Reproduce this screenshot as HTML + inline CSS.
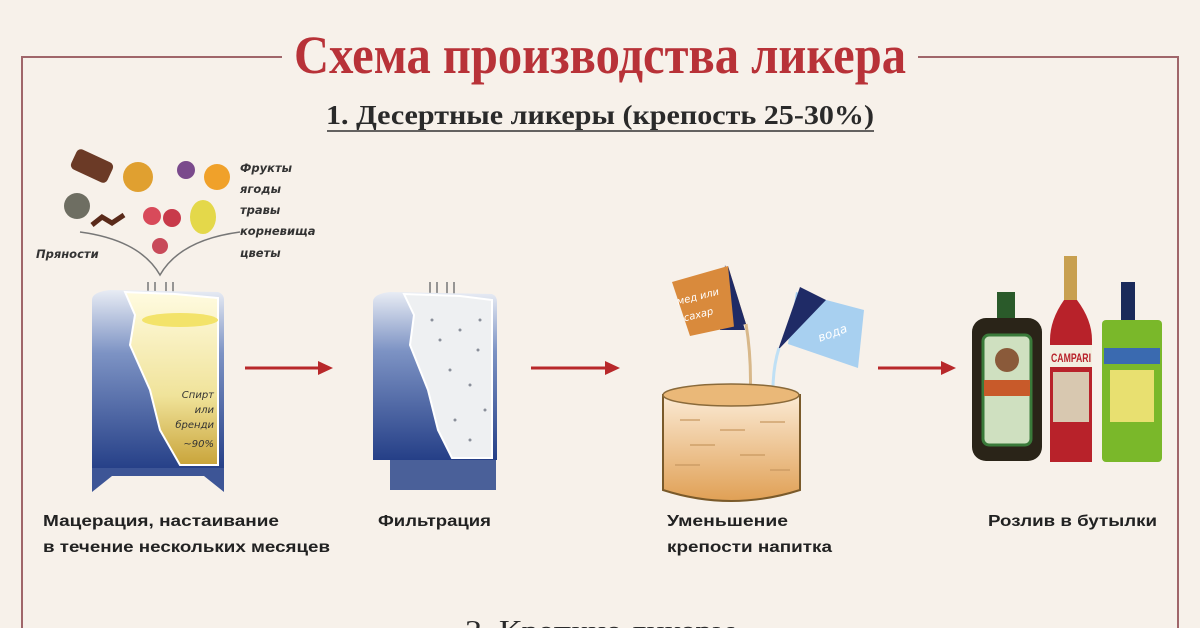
<!DOCTYPE html>
<html><head><meta charset="utf-8"><style>
html,body{margin:0;padding:0;background:#f7f1ea;}
svg{display:block}
</style></head><body>
<svg width="1200" height="628" viewBox="0 0 1200 628" xmlns="http://www.w3.org/2000/svg">
<defs>
<linearGradient id="blue" x1="0" y1="0" x2="0" y2="1"><stop offset="0" stop-color="#e8ecf4"/><stop offset="0.35" stop-color="#7d93c4"/><stop offset="1" stop-color="#253f87"/></linearGradient>
<linearGradient id="liq" x1="0" y1="0" x2="0" y2="1"><stop offset="0" stop-color="#fffbe0"/><stop offset="0.6" stop-color="#f0e39a"/><stop offset="1" stop-color="#c9a43a"/></linearGradient>
<linearGradient id="vat" x1="0" y1="0" x2="0" y2="1"><stop offset="0" stop-color="#fbead4"/><stop offset="1" stop-color="#e0a055"/></linearGradient>
</defs>
<rect width="1200" height="628" fill="#f7f1ea"/>
<g stroke="#a0666a" stroke-width="2" fill="none">
<path d="M22 628 V57 H282"/><path d="M918 57 H1178 V628"/>
</g>
<text x="600" y="73" text-anchor="middle" font-family="Liberation Serif,serif" font-weight="bold" font-size="54" fill="#b83238" textLength="612" lengthAdjust="spacingAndGlyphs">Схема производства ликера</text>
<text x="600" y="124" text-anchor="middle" font-family="Liberation Serif,serif" font-weight="bold" font-size="27" fill="#2a2a2a" textLength="548" lengthAdjust="spacingAndGlyphs">1. Десертные ликеры (крепость 25-30%)</text>
<line x1="327" y1="131" x2="874" y2="131" stroke="#333" stroke-width="1.5"/>
<g>
<rect x="72" y="155" width="40" height="22" rx="5" fill="#6b3a26" transform="rotate(25 92 166)"/>
<circle cx="138" cy="177" r="15" fill="#e0a030"/>
<circle cx="186" cy="170" r="9" fill="#7a4a8c"/>
<circle cx="217" cy="177" r="13" fill="#f0a12a"/>
<circle cx="77" cy="206" r="13" fill="#6e6e62"/>
<path d="M92 225 l10 -8 l10 6 l12 -8" stroke="#5a2a1a" stroke-width="5" fill="none"/>
<circle cx="152" cy="216" r="9" fill="#d84a5a"/><circle cx="172" cy="218" r="9" fill="#c83a4a"/>
<ellipse cx="203" cy="217" rx="13" ry="17" fill="#e4d84a"/>
<circle cx="160" cy="246" r="8" fill="#c84a5a"/>
<path d="M80 232 Q140 240 160 275 Q180 240 240 232" stroke="#777" stroke-width="1.5" fill="none"/>
</g>
<g font-family="DejaVu Sans,sans-serif" font-style="italic" font-weight="bold" font-size="11.5" fill="#333">
<text x="240" y="172">Фрукты</text><text x="240" y="193">ягоды</text><text x="240" y="214">травы</text><text x="240" y="235">корневища</text><text x="240" y="257">цветы</text>
<text x="36" y="258">Пряности</text>
</g>
<path d="M148 282 v12 M155 282 v12 M166 282 v12 M173 282 v12" stroke="#777" stroke-width="1.5"/>
<path d="M92 470 V300 Q92 292 110 290 L218 292 Q224 294 224 300 V470 Z" fill="url(#blue)"/>
<path d="M125 292 L135 315 L130 345 L150 390 L160 430 L180 465 L218 465 V298 L175 294 Z" fill="url(#liq)" stroke="#fff" stroke-width="2"/>
<ellipse cx="180" cy="320" rx="38" ry="7" fill="#f3e36a"/>
<rect x="92" y="468" width="132" height="8" fill="#3d5596"/>
<path d="M92 476 L92 492 L112 476 Z M224 476 L224 492 L204 476 Z" fill="#3d5596"/>
<g font-family="DejaVu Sans,sans-serif" font-style="italic" font-size="10" fill="#333" text-anchor="end">
<text x="214" y="398">Спирт</text><text x="214" y="413">или</text><text x="214" y="428">бренди</text><text x="214" y="447">~90%</text></g>
<g stroke="#b8282a" stroke-width="3" fill="#b8282a">
<line x1="245" y1="368" x2="320" y2="368"/><path d="M333 368 L318 361 L318 375 Z" stroke="none"/>
<line x1="531" y1="368" x2="607" y2="368"/><path d="M620 368 L605 361 L605 375 Z" stroke="none"/>
<line x1="878" y1="368" x2="943" y2="368"/><path d="M956 368 L941 361 L941 375 Z" stroke="none"/>
</g>
<path d="M430 282 v12 M437 282 v12 M447 282 v12 M454 282 v12" stroke="#777" stroke-width="1.5"/>
<path d="M373 460 V302 Q373 294 390 292 L492 294 Q497 296 497 302 V460 Z" fill="url(#blue)"/>
<path d="M404 294 L414 315 L410 345 L428 390 L438 430 L452 458 L492 458 V300 L460 296 Z" fill="#eef0f2" stroke="#fff" stroke-width="2"/>
<g fill="#8a8f9a"><circle cx="440" cy="340" r="1.5"/><circle cx="460" cy="330" r="1.5"/><circle cx="478" cy="350" r="1.5"/><circle cx="450" cy="370" r="1.5"/><circle cx="470" cy="385" r="1.5"/><circle cx="485" cy="410" r="1.5"/><circle cx="455" cy="420" r="1.5"/><circle cx="470" cy="440" r="1.5"/><circle cx="432" cy="320" r="1.5"/><circle cx="480" cy="320" r="1.5"/></g>
<rect x="390" y="460" width="106" height="30" fill="#4a6099"/>
<path d="M725 265 L745 330 L720 330 Z" fill="#1f2b66"/>
<path d="M672 282 L728 266 L746 324 L690 336 Z" fill="#d98a3c"/>
<path d="M728 266 L746 324 L734 327 Z" fill="#1f2b66"/>
<text x="678" y="302" font-family="DejaVu Sans,sans-serif" font-style="italic" font-size="10" fill="#fff" transform="rotate(-14 690 305)">мед или</text>
<text x="684" y="320" font-family="DejaVu Sans,sans-serif" font-style="italic" font-size="10" fill="#fff" transform="rotate(-14 690 318)">сахар</text>
<path d="M746 324 Q752 360 750 400" stroke="#d8b88a" stroke-width="3" fill="none"/>
<path d="M796 292 L864 310 L858 368 L788 344 Z" fill="#a8d0f0"/>
<path d="M800 287 L826 300 L778 350 Z" fill="#1f2b66"/>
<text x="818" y="338" font-family="DejaVu Sans,sans-serif" font-style="italic" font-size="12" fill="#fff" transform="rotate(-20 830 335)">вода</text>
<path d="M779 348 Q772 370 773 400" stroke="#bfe0f5" stroke-width="3" fill="none"/>
<path d="M663 395 V490 Q731 512 800 490 V395 Z" fill="url(#vat)" stroke="#7a5a2a" stroke-width="2"/>
<ellipse cx="731" cy="395" rx="68" ry="11" fill="#eab878" stroke="#8a6a3a" stroke-width="1.5"/>
<g stroke="#c89860" stroke-width="1.2"><line x1="680" y1="420" x2="700" y2="420"/><line x1="720" y1="430" x2="745" y2="430"/><line x1="760" y1="422" x2="785" y2="422"/><line x1="690" y1="445" x2="715" y2="445"/><line x1="740" y1="455" x2="765" y2="455"/><line x1="675" y1="465" x2="700" y2="465"/><line x1="770" y1="470" x2="790" y2="470"/></g>
<rect x="997" y="292" width="18" height="30" fill="#2a5a2a"/>
<rect x="972" y="318" width="70" height="143" rx="14" fill="#2a2418"/>
<rect x="983" y="335" width="48" height="110" rx="6" fill="#cfe0c0" stroke="#3a7a3a" stroke-width="3"/>
<circle cx="1007" cy="360" r="12" fill="#8a5a3a"/>
<rect x="984" y="380" width="46" height="16" fill="#c85a2a"/>
<rect x="1064" y="256" width="13" height="60" fill="#c8a050"/>
<path d="M1064 300 Q1050 320 1050 340 V462 H1092 V340 Q1092 320 1077 300 Z" fill="#b8222a"/>
<rect x="1050" y="345" width="42" height="22" fill="#f2eee0"/>
<text x="1071" y="362" text-anchor="middle" font-family="Liberation Sans,sans-serif" font-weight="bold" font-size="12" fill="#b8222a" textLength="40" lengthAdjust="spacingAndGlyphs">CAMPARI</text>
<rect x="1053" y="372" width="36" height="50" fill="#d8c8b0"/>
<rect x="1121" y="282" width="14" height="40" fill="#1a2a5a"/>
<rect x="1102" y="320" width="60" height="142" rx="4" fill="#7ab82a"/>
<rect x="1104" y="348" width="56" height="16" fill="#3a6ab0"/>
<rect x="1110" y="370" width="44" height="52" fill="#e8e070"/>
<g font-family="Liberation Sans,DejaVu Sans,sans-serif" font-weight="bold" font-size="16" fill="#222">
<text x="43" y="526" textLength="236" lengthAdjust="spacingAndGlyphs">Мацерация, настаивание</text>
<text x="43" y="552" textLength="287" lengthAdjust="spacingAndGlyphs">в течение нескольких месяцев</text>
<text x="378" y="526" textLength="113" lengthAdjust="spacingAndGlyphs">Фильтрация</text>
<text x="667" y="526" textLength="121" lengthAdjust="spacingAndGlyphs">Уменьшение</text>
<text x="667" y="552" textLength="165" lengthAdjust="spacingAndGlyphs">крепости напитка</text>
<text x="988" y="526" textLength="169" lengthAdjust="spacingAndGlyphs">Розлив в бутылки</text>
</g>
<text x="600" y="640" text-anchor="middle" font-family="Liberation Serif,serif" font-size="28" fill="#2a2a2a" textLength="270" lengthAdjust="spacingAndGlyphs">2. Крепкие ликеры</text>
</svg>
</body></html>
